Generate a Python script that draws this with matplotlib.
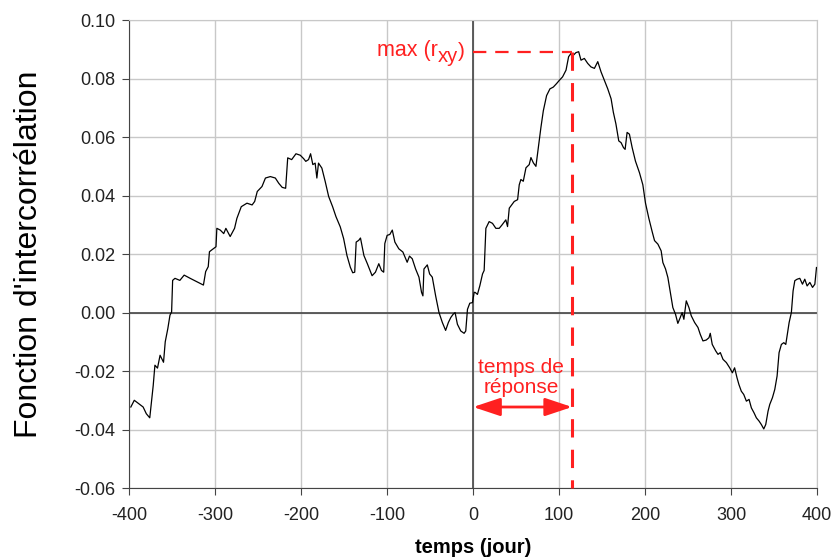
import matplotlib
matplotlib.use('Agg')
import matplotlib.pyplot as plt

plt.rcParams['font.family'] = ['Liberation Sans', 'DejaVu Sans']
plt.rcParams['axes.unicode_minus'] = False

# fonction d'intercorrélation
jours = [-398, -394, -389.5, -383.7, -380, -376, -374, -372, -370, -367, -364, -360,
         -358, -355, -352.5, -350.6, -349.4, -346.7, -341, -336, -329, -321, -313.6,
         -311, -308, -306.6, -304, -299, -298, -294, -290, -287.5, -282.5, -277.4,
         -274.7, -269.6, -263, -257, -254, -251, -245.5, -241.5, -235.8, -230, -226,
         -222, -218, -215.6, -211, -206, -201, -197, -194.6, -191.4, -189, -186.4,
         -183.7, -181.7, -179.8, -175.9, -172, -168, -163.4, -159.5, -154.5, -150.6,
         -146.7, -142.8, -140, -137.7, -136, -133, -131, -127, -123, -117.5, -113.6,
         -109.7, -106.6, -104, -102.7, -100, -96.9, -94, -91, -86.4, -81.7, -76.7,
         -74, -70.8, -66.9, -63, -60, -58.4, -57.2, -53.3, -50.6, -47.5, -43.6,
         -39.7, -35.8, -32, -28.8, -26, -23.3, -21, -18.3, -14.4, -10.5, -8.6, -6.6,
         -3.9, -0.8, 1.2, 2.3, 5, 7.8, 10.9, 12.8, 14.8, 18.6, 22.5, 26.4, 30.3,
         33.4, 38, 40, 42, 47.8, 51.7, 53.6, 55.5, 58.3, 61.4, 65.2, 67.2, 70, 73,
         76, 78.8, 81.6, 85.4, 89.3, 93.2, 97, 100.2, 104, 108, 111, 113.8, 116.5,
         119.6, 122.7, 125.4, 129.3, 133.2, 137, 141, 144.9, 148.7, 152.6, 156.5,
         160.4, 163, 166, 169.3, 172, 174.8, 176.7, 179, 181.7, 184.9, 188.7, 193.4,
         197.3, 200.4, 204.3, 208.2, 210.9, 214.8, 218.6, 220.6, 223.7, 226.4, 229,
         232.2, 235.3, 238, 240.8, 243, 245, 247.8, 250.9, 253.6, 257.5, 261.4, 264,
         267.2, 271, 274.2, 275.7, 278, 282, 284.7, 287.4, 290.5, 294.4, 298.3,
         301.4, 304, 306.8, 309, 311.8, 314.6, 317.7, 320.8, 323.5, 326.6, 329.3,
         332.4, 335.1, 337.9, 340.2, 342.9, 344.9, 348, 350.7, 353.4, 355.7, 358.4,
         361.2, 363.5, 365, 367.4, 370, 372, 374, 376.7, 379.8, 382.9, 385.6, 388.3,
         391.5, 394.6, 397.3, 399.2]
rxy = [-0.0323, -0.030, -0.031, -0.0323, -0.0346, -0.036, -0.0306, -0.025, -0.018,
       -0.019, -0.0146, -0.017, -0.010, -0.0055, -0.0009, 0.0002, 0.011, 0.0117,
       0.011, 0.0128, 0.0117, 0.0105, 0.0094, 0.014, 0.0157, 0.0208, 0.0214, 0.0225,
       0.0288, 0.0282, 0.027, 0.0288, 0.026, 0.0288, 0.0322, 0.0362, 0.0374, 0.0368,
       0.038, 0.0414, 0.0431, 0.046, 0.0465, 0.046, 0.0442, 0.0428, 0.0425, 0.0529,
       0.0523, 0.0543, 0.0538, 0.0526, 0.0517, 0.0523, 0.0543, 0.0506, 0.0511, 0.046,
       0.0511, 0.0494, 0.0448, 0.0397, 0.0362, 0.0328, 0.0293, 0.0253, 0.0195,
       0.0155, 0.0136, 0.0138, 0.0241, 0.0247, 0.0255, 0.0195, 0.0167, 0.0126,
       0.0138, 0.0167, 0.0144, 0.0138, 0.0236, 0.0264, 0.0267, 0.0282, 0.0241,
       0.0218, 0.0207, 0.0172, 0.0193, 0.0184, 0.0149, 0.0121, 0.0069, 0.0057,
       0.0149, 0.0163, 0.0132, 0.0121, 0.0057, 0.0, -0.0034, -0.0061, -0.0034,
       -0.0017, -0.0006, 0.0, -0.004, -0.0063, -0.0071, -0.0063, 0.0011, 0.0032,
       0.0034, 0.0069, 0.0069, 0.0062, 0.0092, 0.0132, 0.0144, 0.0288, 0.0311,
       0.0305, 0.0288, 0.0288, 0.0299, 0.0317, 0.0294, 0.0357, 0.038, 0.0386,
       0.0437, 0.0455, 0.0449, 0.0495, 0.0506, 0.053, 0.0512, 0.05, 0.057, 0.0633,
       0.069, 0.0742, 0.0765, 0.0771, 0.0783, 0.0794, 0.0806, 0.0829, 0.0875,
       0.0886, 0.088, 0.0889, 0.0892, 0.0863, 0.0869, 0.0852, 0.084, 0.0835,
       0.0858, 0.0823, 0.0794, 0.0765, 0.0731, 0.0685, 0.0645, 0.0587, 0.0581,
       0.0564, 0.0558, 0.0616, 0.061, 0.0564, 0.0518, 0.0478, 0.0437, 0.0374,
       0.0322, 0.0276, 0.0246, 0.0234, 0.0211, 0.0171, 0.0149, 0.012, 0.0074,
       0.0017, -0.0006, -0.0037, -0.0017, 0.0, -0.0023, 0.004, 0.0017, -0.0011,
       -0.0034, -0.0051, -0.0074, -0.0097, -0.0094, -0.0086, -0.0071, -0.0109,
       -0.0131, -0.0143, -0.0137, -0.016, -0.0171, -0.0189, -0.0206, -0.0189,
       -0.0223, -0.0246, -0.0269, -0.028, -0.0303, -0.0297, -0.0326, -0.0343,
       -0.036, -0.0371, -0.0383, -0.0398, -0.0383, -0.0337, -0.0314, -0.0291,
       -0.0263, -0.0217, -0.0137, -0.0109, -0.0103, -0.0109, -0.008, -0.0034, 0.0,
       0.0074, 0.0109, 0.0114, 0.0117, 0.0097, 0.0114, 0.0091, 0.0103, 0.0086,
       0.0097, 0.0154]

x_ticks = [-400, -300, -200, -100, 0, 100, 200, 300, 400]
y_ticks = [-0.06, -0.04, -0.02, 0.00, 0.02, 0.04, 0.06, 0.08, 0.10]

t_reponse = 115      # jours
r_max = 0.089
y_fleche = -0.0323

rouge = '#ff2020'

fig = plt.figure(figsize=(8.33, 5.59), dpi=100)
ax = fig.add_axes([0.155, 0.127, 0.826, 0.837])

ax.set_xlim(-400, 400)
ax.set_ylim(-0.06, 0.10)
ax.set_xticks(x_ticks)
ax.set_yticks(y_ticks)
ax.set_yticklabels([f'{v:.2f}' for v in y_ticks])
ax.grid(True, color='#c8c8c8', linewidth=1)
ax.set_axisbelow(True)

for s in ['top', 'right']:
    ax.spines[s].set_color('#c8c8c8')
for s in ['left', 'bottom']:
    ax.spines[s].set_color('#444444')
ax.tick_params(direction='out', length=5, color='#444444', labelsize=13,
               labelcolor='#222222', pad=5)
ax.tick_params(axis='x', pad=9)

ax.axhline(0, color='#444444', linewidth=1.2, zorder=2)
ax.axvline(0, color='#444444', linewidth=1.2, zorder=2)

ax.plot(jours, rxy, color='black', linewidth=0.9, zorder=3)

# annotations
ax.plot([0, t_reponse], [r_max, r_max], color=rouge, linestyle=(0, (6, 4)),
        linewidth=1.6, zorder=4)
ax.plot([t_reponse, t_reponse], [r_max, -0.06], color=rouge, linestyle=(0, (6, 4)),
        linewidth=2.2, zorder=4, clip_on=False)

# "max (r_xy)" : indice presque de la même taille que le texte
t_par = ax.text(-10, 0.0873, ')', color=rouge, fontsize=15, ha='right', va='baseline')
t_xy = ax.annotate('xy', xy=(0, 0), xycoords=t_par, xytext=(0, -3.5),
                   textcoords='offset points', color=rouge, fontsize=14.5,
                   ha='right', va='bottom')
ax.annotate('max (r', xy=(0, 0), xycoords=t_xy, xytext=(0, 3.5),
            textcoords='offset points', color=rouge, fontsize=15.5,
            ha='right', va='bottom')

ax.annotate('', xy=(0, y_fleche), xytext=(t_reponse, y_fleche),
            arrowprops=dict(arrowstyle='<|-|>,head_length=1.65,head_width=0.55',
                            color=rouge, linewidth=2, shrinkA=0, shrinkB=0))
ax.text(56, -0.0222, 'temps de\nréponse', color=rouge, fontsize=15,
        ha='center', va='center', linespacing=1.1)

ax.set_xlabel('temps (jour)', fontsize=14.5, fontweight='bold', labelpad=10)
ax.set_ylabel("Fonction d'intercorrélation", fontsize=23, labelpad=22)

fig.savefig('out.png', dpi=100)
